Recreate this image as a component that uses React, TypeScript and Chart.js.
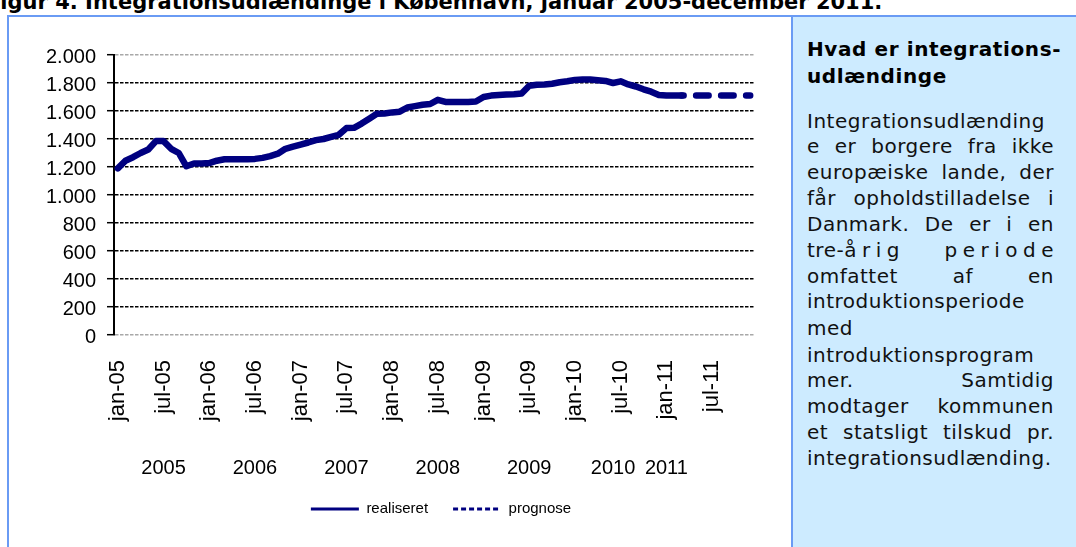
import React, { useEffect, useRef } from 'react';
import { Chart, registerables } from 'chart.js';

Chart.register(...registerables);

// ---- data ----
const monthNames = ['jan', 'feb', 'mar', 'apr', 'maj', 'jun', 'jul', 'aug', 'sep', 'okt', 'nov', 'dec'];
const yearSuffixes = ['05', '06', '07', '08', '09', '10', '11'];
const categories: string[] = [];
yearSuffixes.forEach((y) => monthNames.forEach((m) => categories.push(`${m}-${y}`)));

const xTickLabels = ['jan-05', 'jul-05', 'jan-06', 'jul-06', 'jan-07', 'jul-07', 'jan-08', 'jul-08', 'jan-09', 'jul-09', 'jan-10', 'jul-10', 'jan-11', 'jul-11'];
const yTickLabels = ['0', '200', '400', '600', '800', '1.000', '1.200', '1.400', '1.600', '1.800', '2.000'];
const yearLabels = ['2005', '2006', '2007', '2008', '2009', '2010', '2011'];
const yearLabelPositions = [6, 18, 30, 42, 54, 65, 72];

const realiseret = [
  1190, 1245, 1270, 1300, 1325, 1385, 1385, 1330, 1300, 1205,
  1225, 1225, 1228, 1245, 1255, 1255, 1255, 1255, 1258, 1265,
  1278, 1295, 1330, 1345, 1360, 1375, 1392, 1400, 1415, 1430,
  1478, 1480, 1510, 1545, 1580, 1582, 1590, 1595, 1625, 1635,
  1645, 1650, 1680, 1665, 1665, 1665, 1665, 1668, 1700, 1710,
  1715, 1718, 1720, 1725, 1780, 1788, 1790, 1795, 1805, 1812,
  1822, 1825, 1825, 1820, 1815, 1800, 1812, 1790, 1775, 1755,
  1738, 1715, 1710, 1710, 1710,
];
const prognoseStart = 74;
const prognose = [1710, 1710, 1710, 1710, 1710, 1710, 1710, 1710, 1710, 1710];

const seriesLabels = ['realiseret', 'prognose'];

const panelHeading = ['Hvad er integrations-', 'udlændinge'];

const FONT = '"Liberation Sans", Arial, sans-serif';
const NAVY = '#000080';

const yearLabelPlugin = {
  id: 'yearLabels',
  afterDraw(chart: any) {
    const xs = chart.scales.x;
    const ctx = chart.ctx;
    ctx.save();
    ctx.font = `20px ${FONT}`;
    ctx.fillStyle = '#000';
    ctx.textAlign = 'center';
    ctx.textBaseline = 'middle';
    yearLabels.forEach((t, i) => {
      ctx.fillText(t, xs.getPixelForValue(yearLabelPositions[i]), xs.top + 133);
    });
    ctx.restore();
  },
};

const legendShiftPlugin = {
  id: 'legendShift',
  afterLayout(chart: any) {
    const l = chart.legend;
    if (l) {
      l.left += 7;
      l.right += 7;
    }
  },
};

function ChartBox() {
  const ref = useRef<HTMLCanvasElement | null>(null);
  useEffect(() => {
    if (!ref.current) return;
    const realData = categories.map((_, i) => (i < realiseret.length ? realiseret[i] : null));
    const progData = categories.map((_, i) =>
      i >= prognoseStart && i - prognoseStart < prognose.length ? prognose[i - prognoseStart] : null
    );
    const chart = new Chart(ref.current, {
      type: 'line',
      data: {
        labels: categories,
        datasets: [
          {
            label: seriesLabels[0],
            data: realData,
            borderColor: NAVY,
            backgroundColor: NAVY,
            borderWidth: 6.5,
            pointRadius: 0,
            tension: 0,
            borderJoinStyle: 'round',
            borderCapStyle: 'round',
          },
          {
            label: seriesLabels[1],
            data: progData,
            borderColor: NAVY,
            backgroundColor: NAVY,
            borderWidth: 6.5,
            pointRadius: 0,
            tension: 0,
            borderDash: [12.5, 12.5],
            borderDashOffset: 10.5,
            borderCapStyle: 'round',
          },
        ],
      },
      options: {
        animation: false,
        responsive: false,
        devicePixelRatio: 1,
        layout: { padding: { left: 0, right: 36, top: 55, bottom: 20.5 } },
        plugins: {
          tooltip: { enabled: false },
          legend: {
            position: 'bottom',
            fullSize: false,
            labels: {
              font: { family: FONT, size: 15 },
              color: '#000',
              usePointStyle: true,
              pointStyle: 'line',
              pointStyleWidth: 48,
              padding: 25,
              generateLabels: (chart: any) =>
                chart.data.datasets.map((ds: any, i: number) => ({
                  text: ds.label,
                  fillStyle: 'transparent',
                  strokeStyle: NAVY,
                  lineWidth: 3,
                  lineDash: i === 1 ? [5, 3] : [],
                  lineCap: 'butt',
                  pointStyle: 'line',
                  datasetIndex: i,
                  hidden: false,
                  fontColor: '#000',
                })),
            },
          },
        },
        scales: {
          x: {
            type: 'category',
            offset: true,
            grid: { display: false, drawTicks: true, tickLength: 25 },
            border: { display: false },
            ticks: {
              autoSkip: false,
              minRotation: 90,
              maxRotation: 90,
              padding: 0,
              color: '#000',
              font: { family: FONT, size: 22 },
              callback: (_v: any, i: number) => (i % 6 === 0 ? xTickLabels[i / 6] : ''),
            },
            afterFit: (s: any) => {
              s.height = 141.5;
            },
          },
          y: {
            min: 0,
            max: 2000,
            ticks: {
              stepSize: 200,
              padding: 11,
              labelOffset: 2,
              color: '#000',
              font: { family: FONT, size: 20 },
              callback: (_v: any, i: number) => yTickLabels[i],
            },
            grid: {
              color: (c: any) => (c.tick && (c.tick.value === 0 || c.tick.value === 2000) ? '#a8a8a8' : '#000'),
              lineWidth: 1.4,
              tickLength: 7,
              tickColor: '#000',
              tickWidth: 1.5,
            },
            border: { display: true, color: '#000', width: 2, dash: [3.5, 1.5] },
            afterFit: (s: any) => {
              s.width = 114;
            },
          },
        },
      },
      plugins: [yearLabelPlugin, legendShiftPlugin],
    } as any);
    return () => chart.destroy();
  }, []);
  return (
    <canvas
      ref={ref}
      width={790}
      height={547}
      style={{ position: 'absolute', left: 0, top: 0, width: 790, height: 547, display: 'block', zIndex: 2 }}
    />
  );
}

const bodyFont = '"DejaVu Sans", Verdana, sans-serif';

type PLine = { text: React.ReactNode; justify: boolean; baseline: number };

const panelLines: PLine[] = [
  { text: 'Integrationsudlænding', justify: false, baseline: 128.3 },
  { text: 'e er borgere fra ikke', justify: true, baseline: 153.3 },
  { text: 'europæiske lande, der', justify: true, baseline: 179 },
  { text: 'får opholdstilladelse i', justify: true, baseline: 205 },
  { text: 'Danmark. De er i en', justify: true, baseline: 230.7 },
  {
    text: (
      <>
        tre-<span style={{ letterSpacing: '5.5px' }}>årig</span> <span style={{ letterSpacing: '5.5px' }}>period</span>e
      </>
    ),
    justify: true,
    baseline: 256.7,
  },
  { text: 'omfattet af en', justify: true, baseline: 282.5 },
  { text: 'introduktionsperiode', justify: false, baseline: 308.3 },
  { text: 'med', justify: false, baseline: 335 },
  { text: 'introduktionsprogram', justify: false, baseline: 361.5 },
  { text: 'mer. Samtidig', justify: true, baseline: 387.3 },
  { text: 'modtager kommunen', justify: true, baseline: 413.3 },
  { text: 'et statsligt tilskud pr.', justify: true, baseline: 438.8 },
  { text: 'integrationsudlænding.', justify: false, baseline: 464.8 },
];

export default function App() {
  const borderColor = '#6a9bf4';
  const boxTop = 15;
  return (
    <div
      style={{
        position: 'absolute',
        left: 0,
        top: 0,
        width: 1076,
        height: 547,
        overflow: 'hidden',
        background: '#fff',
      }}
    >
      <div
        style={{
          position: 'absolute',
          left: -14,
          top: 10 - 17.8,
          whiteSpace: 'nowrap',
          fontFamily: bodyFont,
          fontWeight: 'bold',
          fontSize: 21,
          lineHeight: '21px',
          color: '#000',
        }}
      >
        Figur 4. Integrationsudlændinge i København, januar 2005-december 2011.
      </div>
      <div
        style={{
          position: 'absolute',
          left: 7,
          top: boxTop,
          width: 1200,
          height: 700,
          borderTop: `2px solid ${borderColor}`,
          borderLeft: `2px solid ${borderColor}`,
          boxSizing: 'border-box',
        }}
      />
      <div
        style={{
          position: 'absolute',
          left: 791,
          top: boxTop + 2,
          width: 400,
          height: 700,
          background: '#cdebff',
          borderLeft: `2px solid ${borderColor}`,
          boxSizing: 'border-box',
        }}
      />
      {panelHeading.map((t, i) => (
        <div
          key={'h' + i}
          style={{
            position: 'absolute',
            left: 807,
            top: [56, 82.7][i] - 16.9,
            whiteSpace: 'nowrap',
            fontFamily: bodyFont,
            fontWeight: 'bold',
            fontSize: 20,
            lineHeight: '20px',
            letterSpacing: '0.6px',
            color: '#000',
            zIndex: 3,
          }}
        >
          {t}
        </div>
      ))}
      {panelLines.map((l, i) => (
        <div
          key={'l' + i}
          style={{
            position: 'absolute',
            left: 807,
            top: l.baseline - 16.9,
            width: 247,
            fontFamily: bodyFont,
            fontSize: 20,
            lineHeight: '20px',
            letterSpacing: '0.5px',
            color: '#111',
            textAlign: l.justify ? 'justify' : 'left',
            textAlignLast: l.justify ? 'justify' : 'left',
            zIndex: 3,
          } as any}
        >
          {l.text}
        </div>
      ))}
      <ChartBox />
    </div>
  );
}
